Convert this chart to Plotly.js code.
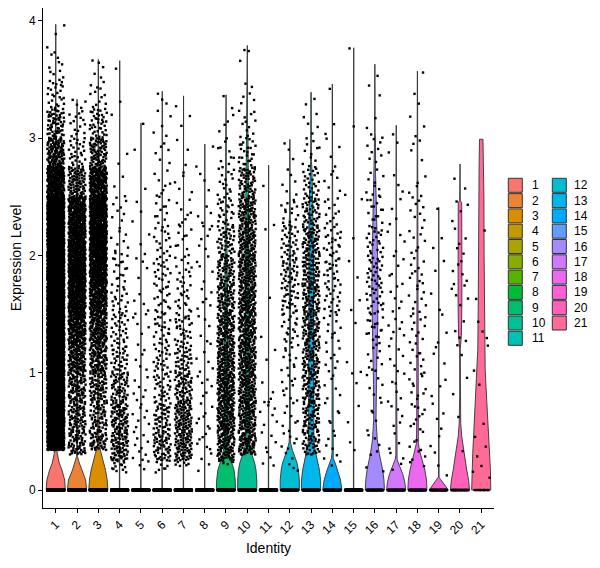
<!DOCTYPE html>
<html>
<head>
<meta charset="utf-8">
<script src="https://cdn.plot.ly/plotly-3.0.1.min.js"></script>
<style>
  html, body { margin: 0; padding: 0; background: #ffffff; }
  #chart { width: 600px; height: 568px; }
</style>
</head>
<body>
<div id="chart"></div>
<script>
// Cluster identities on the x axis
const clusters = ['1','2','3','4','5','6','7','8','9','10','11','12','13','14','15','16','17','18','19','20','21'];

// Expression bins (width 0.25, from 0 to 4) used for the jittered cells
const binWidth = 0.25;

// Number of cells with non-zero expression in each bin, per cluster
const pointCounts = [
  [0,250,400,450,480,480,480,460,420,360,220,110,60,25,10,3],
  [0,55,70,85,120,170,220,260,260,200,80,30,15,4,0,0],
  [0,45,55,70,95,130,180,220,260,260,190,80,40,12,5,0],
  [12,75,70,55,35,28,20,16,10,8,3,2,1,1,1,0],
  [3,10,8,7,6,5,5,4,3,3,1,1,1,0,0,0],
  [8,55,45,30,25,22,20,20,15,12,8,6,5,3,0,0],
  [6,75,75,60,40,28,18,14,10,8,5,3,2,1,0,0],
  [2,8,8,6,6,5,6,5,6,5,3,2,0,0,0,0],
  [5,90,110,110,100,90,75,60,45,25,15,10,4,2,0,0],
  [0,70,90,95,100,100,100,95,90,80,55,25,12,6,2,1],
  [2,6,7,4,2,1,1,0,1,1,1,0,0,0,0,0],
  [3,8,8,10,12,18,30,35,30,15,6,3,0,0,0,0],
  [0,40,55,60,60,65,65,65,60,45,25,12,5,2,0,0],
  [2,6,6,6,8,12,18,22,20,12,6,4,2,1,0,0],
  [0,2,2,2,2,1,2,2,1,1,1,0,1,0,0,1],
  [2,5,5,6,10,16,22,25,20,15,10,8,4,2,1,0],
  [2,5,5,6,6,7,6,6,4,4,3,2,1,0,0,0],
  [2,8,10,10,10,10,10,10,8,8,5,4,3,2,1,0],
  [2,3,4,3,3,3,2,2,2,1,0,0,0,0,0,0],
  [0,1,1,2,2,4,5,6,5,4,2,0,0,0,0,0],
  [3,3,1,1,2,3,1,0,1,0,0,0,0,0,0,0]
];

// Cells with zero expression, per cluster
const zeroCounts = [400,350,300,300,250,300,300,250,150,150,200,80,80,80,150,60,60,60,50,30,10];

// Smallest non-zero value per cluster
const lowestValue = [0.34,0.30,0.34,0.15,0.15,0.15,0.20,0.15,0.22,0.30,0.20,0.15,0.30,0.15,0.30,0.15,0.10,0.15,0.10,0.30,0.10];

// Largest value per cluster
const maxValue = [3.97,3.33,3.67,3.66,3.13,3.40,3.36,2.95,3.37,3.79,2.77,2.99,3.39,3.46,3.77,3.63,3.11,3.57,2.41,2.78,2.99];

// Violin outlines: expression levels and relative half-widths (1 = full width)
const vlnLevels = [
  [0,0.085,0.17,0.23,0.31,0.37,0.5,1.5,2.5,3.0,3.5,3.97],
  [0,0.085,0.17,0.24,0.285,0.5,1.5,2.2,2.6,3.0,3.33],
  [0,0.085,0.17,0.23,0.31,0.385,0.6,1.5,2.3,2.7,3.2,3.67],
  [0,0.006,0.015,3.66],
  [0,0.006,0.015,3.13],
  [0,0.006,0.015,3.40],
  [0,0.006,0.015,3.36],
  [0,0.006,0.015,2.95],
  [0,0.085,0.17,0.23,0.3,0.37,0.6,1.0,1.5,2.0,2.3,2.4,3.0,3.37],
  [0,0.085,0.17,0.23,0.3,0.37,0.5,1.0,1.5,2.0,2.5,2.8,3.07,3.1,3.79],
  [0,0.006,0.015,2.77],
  [0,0.085,0.17,0.23,0.34,0.41,0.6,1.2,1.4,1.8,2.1,2.3,2.35,2.99],
  [0,0.085,0.17,0.25,0.33,0.4,0.5,1.0,1.5,2.0,2.3,2.55,2.76,2.8,3.39],
  [0,0.085,0.17,0.23,0.27,0.32,1.3,1.6,2.1,2.35,2.4,3.46],
  [0,0.006,0.015,3.77],
  [0,0.085,0.17,0.31,0.43,0.6,0.9,1.1,1.4,1.7,2.0,2.3,2.55,2.7,2.99,3.05,3.63],
  [0,0.07,0.14,0.2,0.26,0.3,1.25,1.37,1.45,3.11],
  [0,0.085,0.17,0.28,0.34,0.4,0.6,2.0,2.55,2.6,3.57],
  [0,0.03,0.06,0.09,0.11,0.13,2.41],
  [0,0.085,0.17,0.31,0.46,0.57,0.8,1.2,1.32,1.6,2.0,2.3,2.45,2.47,2.78],
  [0,0.17,0.31,0.46,0.6,0.74,0.88,1.03,1.2,1.5,2.0,2.5,2.8,2.99]
];
const vlnWidths = [
  [1,0.93,0.65,0.37,0.16,0.05,0.06,0.07,0.06,0.03,0.015,0.01],
  [1,0.9,0.48,0.2,0.05,0.05,0.06,0.06,0.03,0.015,0.01],
  [1,0.93,0.75,0.59,0.31,0.07,0.07,0.08,0.08,0.05,0.02,0.01],
  [1,0.3,0.02,0.015],
  [1,0.3,0.02,0.015],
  [1,0.3,0.02,0.015],
  [1,0.3,0.02,0.015],
  [1,0.3,0.02,0.015],
  [1,0.97,0.85,0.63,0.35,0.2,0.18,0.18,0.17,0.12,0.08,0.04,0.03,0.01],
  [1,1,0.92,0.78,0.5,0.25,0.2,0.2,0.19,0.18,0.15,0.1,0.07,0.03,0.01],
  [1,0.3,0.02,0.015],
  [1,1,0.9,0.76,0.28,0.06,0.03,0.04,0.08,0.1,0.09,0.05,0.02,0.01],
  [1,1,0.88,0.7,0.45,0.3,0.25,0.25,0.26,0.25,0.22,0.15,0.08,0.04,0.015],
  [1,0.86,0.55,0.3,0.1,0.03,0.03,0.07,0.07,0.04,0.015,0.01],
  [1,0.3,0.02,0.015],
  [1,0.95,0.82,0.46,0.25,0.12,0.14,0.2,0.3,0.32,0.28,0.22,0.12,0.07,0.06,0.02,0.01],
  [1,0.9,0.68,0.38,0.1,0.03,0.02,0.06,0.02,0.01],
  [1,0.95,0.78,0.43,0.21,0.1,0.07,0.07,0.06,0.02,0.01],
  [1,0.75,0.5,0.2,0.04,0.015,0.01],
  [1,0.9,0.71,0.43,0.18,0.08,0.03,0.03,0.15,0.2,0.2,0.2,0.18,0.03,0.01],
  [1,0.96,0.89,0.8,0.71,0.6,0.5,0.41,0.36,0.32,0.3,0.28,0.22,0.18]
];

// ---- styling helpers ----
const FONT = 'Liberation Sans, Arial, Helvetica, sans-serif';
const OUTLINE = '#333333';
const HALF_WIDTH = 0.45;   // violin half-width in category units
const JITTER = 0.4;        // horizontal jitter half-width

// ggplot-style evenly spaced hues (polar LUV, C=100, L=65)
function hclHex(h, c, l) {
  const Xn = 95.047, Yn = 100, Zn = 108.883;
  const hr = h * Math.PI / 180;
  const U = c * Math.cos(hr), V = c * Math.sin(hr);
  const Y = Yn * (l > 8 ? Math.pow((l + 16) / 116, 3) : l / 903.3);
  const den = Xn + 15 * Yn + 3 * Zn;
  const un = 4 * Xn / den, vn = 9 * Yn / den;
  const u = U / (13 * l) + un, v = V / (13 * l) + vn;
  const X = 9 * Y * u / (4 * v);
  const Z = Y * (12 - 3 * u - 20 * v) / (4 * v);
  const lin = [
    ( 3.240479 * X - 1.537150 * Y - 0.498535 * Z) / 100,
    (-0.969256 * X + 1.875992 * Y + 0.041556 * Z) / 100,
    ( 0.055648 * X - 0.204043 * Y + 1.057311 * Z) / 100
  ];
  return '#' + lin.map(t => {
    let g = t <= 0.0031308 ? 12.92 * t : 1.055 * Math.pow(t, 1 / 2.4) - 0.055;
    g = Math.min(1, Math.max(0, g));
    return Math.round(g * 255).toString(16).padStart(2, '0');
  }).join('');
}
const colors = clusters.map((_, i) => hclHex(15 + i * 360 / clusters.length, 100, 65));

// low-discrepancy sequence used to spread cells inside their bin
function radicalInverse(n, base) {
  let inv = 1 / base, f = inv, r = 0;
  while (n > 0) { r += (n % base) * f; n = Math.floor(n / base); f *= inv; }
  return r;
}

const traces = [];

// violins
clusters.forEach((name, i) => {
  const c = i + 1;
  const lv = vlnLevels[i], wd = vlnWidths[i];
  const xs = [], ys = [];
  for (let k = 0; k < lv.length; k++) { xs.push(c - wd[k] * HALF_WIDTH); ys.push(lv[k]); }
  for (let k = lv.length - 1; k >= 0; k--) { xs.push(c + wd[k] * HALF_WIDTH); ys.push(lv[k]); }
  xs.push(xs[0]); ys.push(ys[0]);
  traces.push({
    type: 'scatter', mode: 'lines', x: xs, y: ys,
    fill: 'toself', fillcolor: colors[i],
    line: { color: OUTLINE, width: 0.9 },
    hoverinfo: 'skip', showlegend: false
  });
});

// jittered cells
const px = [], py = [];
let seq = 1;
clusters.forEach((name, i) => {
  const c = i + 1;
  for (let k = 0; k < zeroCounts[i]; k++, seq++) {
    px.push(c + JITTER * (2 * radicalInverse(seq, 2) - 1));
    py.push(0);
  }
  pointCounts[i].forEach((n, b) => {
    const lo = Math.max(b * binWidth, lowestValue[i]);
    const hi = Math.min((b + 1) * binWidth, maxValue[i]);
    for (let k = 0; k < n; k++, seq++) {
      const bottom = lo < hi ? lo : b * binWidth;
      const top = lo < hi ? hi : (b + 1) * binWidth;
      px.push(c + JITTER * (2 * radicalInverse(seq, 2) - 1));
      py.push(bottom + (top - bottom) * radicalInverse(seq, 3));
    }
  });
});
traces.push({
  type: 'scatter', mode: 'markers', x: px, y: py,
  marker: { symbol: 'square', size: 2.4, color: '#000000', line: { width: 0 } },
  hoverinfo: 'skip', showlegend: false
});

// legend: two columns of keys drawn in paper coordinates
const L = 43, T = 8, PW = 451, PH = 500;
const toPx = x => (x - L) / PW;
const toPy = y => (T + PH - y) / PH;
const shapes = [], annotations = [];
const perCol = 11, keyTop = 178.3, rowStep = 15.3, keySize = 14;
const colKeyX = [508.3, 552.3], colTextX = [530, 572];
clusters.forEach((name, i) => {
  const col = i < perCol ? 0 : 1;
  const row = col === 0 ? i : i - perCol;
  const y0 = keyTop + row * rowStep;
  shapes.push({
    type: 'rect', xref: 'paper', yref: 'paper',
    x0: toPx(colKeyX[col]), x1: toPx(colKeyX[col] + keySize),
    y0: toPy(y0 + keySize), y1: toPy(y0),
    fillcolor: colors[i], line: { color: OUTLINE, width: 1 }
  });
  annotations.push({
    xref: 'paper', yref: 'paper', x: toPx(colTextX[col]), y: toPy(y0 + keySize / 2),
    text: name, showarrow: false, xanchor: 'left', yanchor: 'middle',
    font: { family: FONT, size: 12, color: '#000000' }
  });
});

const axisCommon = {
  showline: true, linecolor: '#000000', linewidth: 1,
  ticks: 'outside', ticklen: 4, tickwidth: 1, tickcolor: '#000000',
  showgrid: false, zeroline: false, automargin: false,
  tickfont: { family: FONT, size: 12, color: '#000000' }
};

const layout = {
  width: 600, height: 568,
  margin: { l: 43, r: 106, t: 8, b: 60, pad: 0 },
  paper_bgcolor: '#ffffff', plot_bgcolor: '#ffffff',
  showlegend: false,
  xaxis: Object.assign({}, axisCommon, {
    range: [0.4, 21.6],
    tickmode: 'array', tickvals: clusters.map((_, i) => i + 1), ticktext: clusters,
    tickangle: -45,
    title: { text: 'Identity', font: { family: FONT, size: 14, color: '#000000' }, standoff: 6 }
  }),
  yaxis: Object.assign({}, axisCommon, {
    range: [-0.153, 4.109],
    tickmode: 'array', tickvals: [0, 1, 2, 3, 4], ticktext: ['0', '1', '2', '3', '4'],
    title: { text: 'Expression Level', font: { family: FONT, size: 14, color: '#000000' }, standoff: 4 }
  }),
  shapes: shapes,
  annotations: annotations
};

Plotly.newPlot('chart', traces, layout, { displayModeBar: false, staticPlot: true });
</script>
</body>
</html>
